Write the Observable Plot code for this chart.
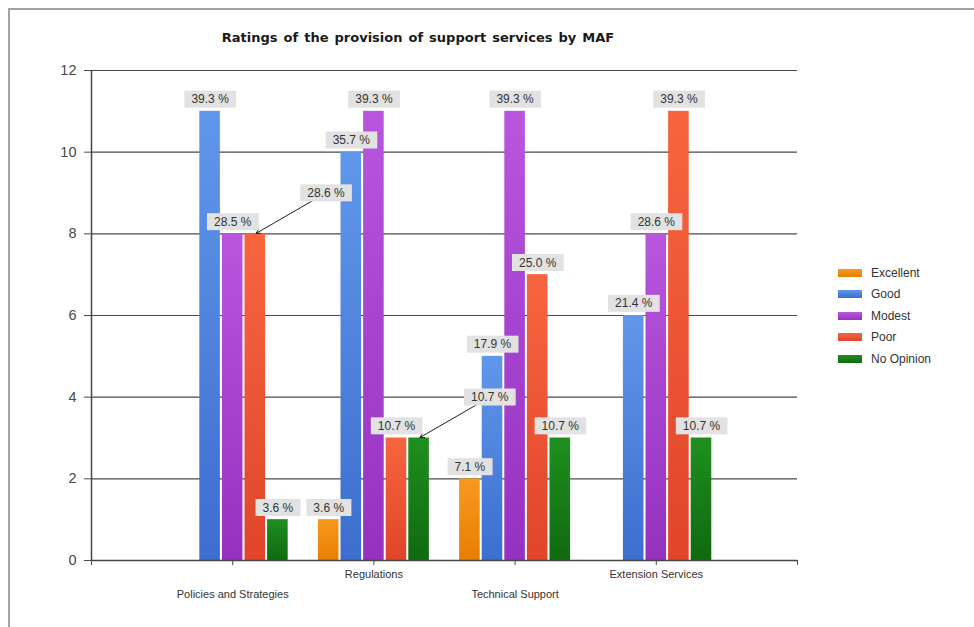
<!DOCTYPE html>
<html>
<head>
<meta charset="utf-8">
<script src="https://cdn.jsdelivr.net/npm/d3@7"></script>
<script src="https://cdn.jsdelivr.net/npm/@observablehq/plot@0.6"></script>
<style>
  html, body { margin: 0; padding: 0; background: #fff; }
  #wrap { position: relative; width: 974px; height: 627px; overflow: hidden; font-family: "Liberation Sans", Arial, sans-serif; }
  #frame { position: absolute; left: 8px; top: 8px; width: 1100px; height: 800px; border-left: 2px solid #a3a3a3; border-top: 2px solid #a3a3a3; }
  #title { position: absolute; left: 0; width: 836px; top: 30px; text-align: center; font-family: "DejaVu Sans", Verdana, sans-serif; font-weight: bold; font-size: 13px; color: #1a1a1a; word-spacing: 1.5px; }
  #chart { position: absolute; left: 0; top: 0; }
  #legend { position: absolute; left: 838px; top: 262px; font-size: 12px; color: #333; }
  .item { height: 21.5px; display: flex; align-items: center; }
  .sw { width: 24px; height: 8px; margin-right: 9px; }
</style>
</head>
<body>
<div id="wrap">
  <div id="frame"></div>
  <div id="chart"></div>
  <div id="title">Ratings of the provision of support services by MAF</div>
  <div id="legend"></div>
</div>
<script>
// ---- data ----
const categories = ["Policies and Strategies", "Regulations", "Technical Support", "Extension Services"];
const ratings = ["Excellent", "Good", "Modest", "Poor", "No Opinion"];
const excellent = [0, 1, 2, 0];
const good = [11, 10, 5, 6];
const modest = [8, 11, 11, 8];
const poor = [8, 3, 7, 11];
const noOpinion = [1, 3, 3, 3];
const excellentPct = [null, 3.6, 7.1, null];
const goodPct = [39.3, 35.7, 17.9, 21.4];
const modestPct = [28.5, 39.3, 39.3, 28.6];
const poorPct = [28.6, 10.7, 25.0, 39.3];
const noOpinionPct = [3.6, 10.7, 10.7, 10.7];
const yTicks = [0, 2, 4, 6, 8, 10, 12];
// labels drawn as callouts with an arrow: [category, rating]
const callouts = [["Policies and Strategies", "Poor"], ["Regulations", "No Opinion"]];

// ---- styles ----
const gradTop = ["#f7991f", "#6197ea", "#b856de", "#f7653f", "#1f8f1f"];
const gradBot = ["#e87e04", "#3c6ecf", "#9531bf", "#e0452a", "#106a10"];

const series = [excellent, good, modest, poor, noOpinion];
const pcts = [excellentPct, goodPct, modestPct, poorPct, noOpinionPct];
const slot = 0.16;
const rows = categories.flatMap((c, i) => ratings.map((r, j) => ({
  cat: c, ci: i, rating: r, ri: j, value: series[j][i], pct: pcts[j][i],
  callout: callouts.some(([cc, rr]) => cc === c && rr === r)
}))).filter(d => d.value > 0);
const x1 = d => d.ci + 1 - 2.5 * slot + d.ri * slot;
const xc = d => x1(d) + slot / 2;
const fmt = d => d.pct.toFixed(1) + " %";

const plot = Plot.plot({
  width: 974, height: 627,
  marginLeft: 91, marginRight: 177, marginTop: 70, marginBottom: 67,
  style: { background: "transparent", fontFamily: "'Liberation Sans', Arial, sans-serif", fontSize: "14.5px", color: "#4a4a4a", overflow: "visible" },
  x: { domain: [0, 5], ticks: [0, 1, 2, 3, 4, 5], tickFormat: () => "", tickSize: 5, label: null },
  y: { domain: [0, 12], ticks: yTicks, tickSize: 7, tickPadding: 8, label: null },
  color: { domain: ratings, range: ratings.map((r, j) => `url(#grad${j})`) },
  marks: [
    Plot.ruleY(yTicks.filter(t => t > 0), { x1: 0, x2: 5, stroke: "#4a4a4a", strokeWidth: 1.2 }),
    Plot.rectY(rows, { x1: x1, x2: d => x1(d) + slot, y: "value", fill: "rating", insetLeft: 1, insetRight: 1 }),
    Plot.ruleY([0], { x1: 0, x2: 5, stroke: "#444", strokeWidth: 1.5 }),
    Plot.ruleX([0], { y1: 0, y2: 12, stroke: "#444", strokeWidth: 1.5 }),
    Plot.arrow(rows.filter(d => d.callout), { x1: d => xc(d) + 0.5, y1: d => d.value + 1, x2: xc, y2: "value", stroke: "#222", strokeWidth: 1, headLength: 7, insetEnd: 1 }),
    Plot.text(rows.filter(d => d.pct != null && !d.callout), { x: xc, y: "value", text: fmt, dy: -12, fontSize: 12, fill: "#333" }),
    Plot.text(rows.filter(d => d.callout), { x: d => xc(d) + 0.5, y: d => d.value + 1, text: fmt, fontSize: 12, fill: "#333" }),
    Plot.text(categories, { x: (d, i) => i + 1, y: () => 0, text: d => d, dy: 14, fontSize: 11, fill: "#333", filter: (d, i) => i % 2 === 1 }),
    Plot.text(categories, { x: (d, i) => i + 1, y: () => 0, text: d => d, dy: 34, fontSize: 11, fill: "#333", filter: (d, i) => i % 2 === 0 })
  ]
});
document.getElementById("chart").appendChild(plot);

// gradients
const svg = d3.select(plot);
const defs = svg.insert("defs", ":first-child");
ratings.forEach((r, j) => {
  const g = defs.append("linearGradient").attr("id", `grad${j}`).attr("x1", 0).attr("y1", 0).attr("x2", 0).attr("y2", 1);
  g.append("stop").attr("offset", "0%").attr("stop-color", gradTop[j]);
  g.append("stop").attr("offset", "100%").attr("stop-color", gradBot[j]);
});

// label boxes behind percentage texts
svg.selectAll("text").filter(function () { return /%$/.test(this.textContent); }).each(function () {
  const bb = this.getBBox();
  const h = 17;
  const cy = bb.y + bb.height / 2;
  const r = document.createElementNS("http://www.w3.org/2000/svg", "rect");
  const tr = this.getAttribute("transform");
  if (tr) r.setAttribute("transform", tr);
  r.setAttribute("x", bb.x - 7); r.setAttribute("y", cy - h / 2);
  r.setAttribute("width", bb.width + 14); r.setAttribute("height", h);
  r.setAttribute("fill", "#e2e2e2");
  this.parentNode.insertBefore(r, this);
});

// legend
const leg = d3.select("#legend");
ratings.forEach((r, j) => {
  const it = leg.append("div").attr("class", "item");
  it.append("div").attr("class", "sw").style("background", `linear-gradient(${gradTop[j]}, ${gradBot[j]})`);
  it.append("span").text(r);
});
</script>
</body>
</html>
